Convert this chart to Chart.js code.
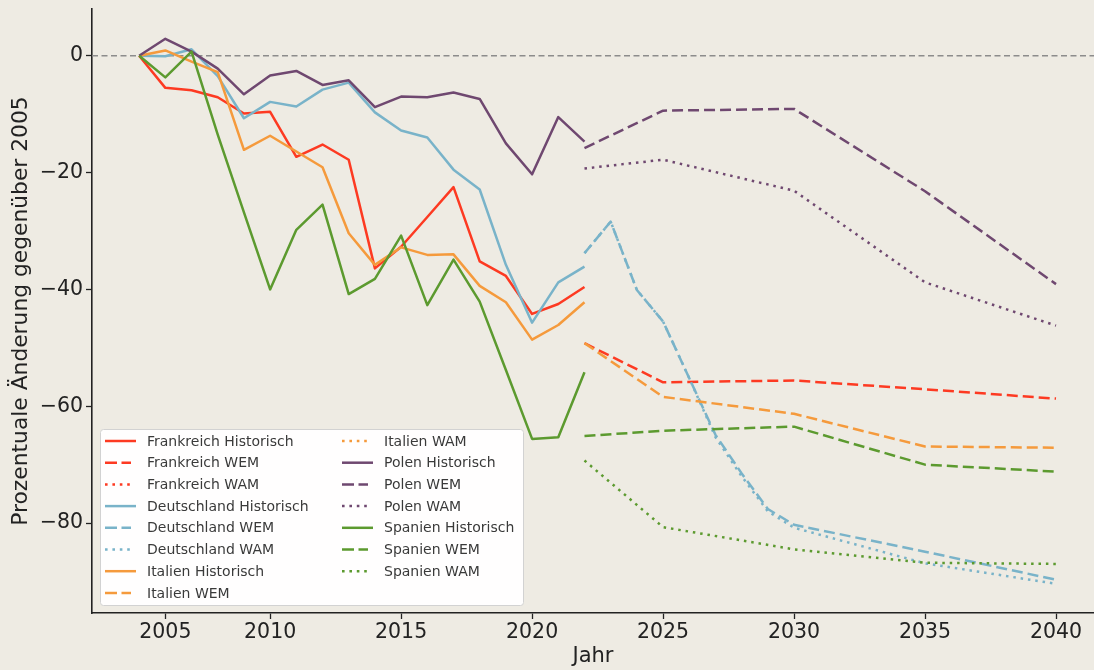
<!DOCTYPE html>
<html>
<head>
<meta charset="utf-8">
<script src="https://cdn.jsdelivr.net/npm/chart.js@4"></script>
<style>
  html, body { margin: 0; padding: 0; background: #eeebe3; overflow: hidden; }
  canvas { display: block; }
</style>
</head>
<body>
<canvas id="chart" width="1094" height="670"></canvas>
<script>
// years
const histYears = [2005, 2006, 2007, 2008, 2009, 2010, 2011, 2012, 2013, 2014, 2015, 2016, 2017, 2018, 2019, 2020, 2021, 2022];
const projYears = [2022, 2025, 2030, 2035, 2040];
const deProjYears = [2022, 2023, 2024, 2025, 2026, 2027, 2028, 2029, 2030, 2035, 2040];

// historical values (% vs 2005)
const frHist = [0, -5.5, -5.9, -7.1, -9.9, -9.6, -17.3, -15.2, -17.8, -36.4, -32.7, -27.6, -22.5, -35.2, -37.7, -44.2, -42.5, -39.6];
const deHist = [0, -0.1, 1.1, -3.5, -10.7, -7.9, -8.7, -5.8, -4.6, -9.7, -12.8, -14.0, -19.5, -22.9, -35.8, -45.7, -38.8, -36.1];
const itHist = [0, 0.9, -1.0, -2.8, -16.1, -13.7, -16.4, -19.1, -30.4, -35.8, -32.8, -34.1, -34.0, -39.4, -42.2, -48.6, -46.1, -42.2];
const plHist = [0, 2.9, 0.7, -2.2, -6.6, -3.4, -2.6, -5.0, -4.2, -8.8, -7.0, -7.1, -6.3, -7.4, -15.0, -20.3, -10.5, -14.7];
const esHist = [0, -3.7, 0.7, -13.5, -26.8, -40.0, -29.8, -25.5, -40.8, -38.2, -30.8, -42.7, -34.9, -42.1, -53.8, -65.6, -65.3, -54.2];

// projections
const frWEM = [-49.2, -55.9, -55.6, -57.1, -58.7];
const frWAM = [];
const deWEM = [-33.8, -28.4, -40.1, -45.5, -55.2, -64.9, -71.5, -77.6, -80.3, -84.9, -89.7];
const deWAM = [-33.8, -28.4, -40.1, -45.5, -55.2, -65.3, -72.0, -78.0, -80.8, -86.9, -90.4];
const itWEM = [-49.2, -58.4, -61.3, -66.9, -67.1];
const itWAM = [];
const plWEM = [-15.8, -9.4, -9.1, -23.2, -39.1];
const plWAM = [-19.3, -17.8, -23.1, -38.8, -46.2];
const esWEM = [-65.1, -64.2, -63.5, -70.0, -71.2];
const esWAM = [-69.3, -80.7, -84.5, -86.8, -87.0];

const countries = ['Frankreich', 'Deutschland', 'Italien', 'Polen', 'Spanien'];
const colors = ['#fd3a22', '#79b3c9', '#f59a3c', '#6f4870', '#5c9a2f'];

// axis ticks
const xTickValues = [2006, 2010, 2015, 2020, 2025, 2030, 2035, 2040];
const xTickLabels = ['2005', '2010', '2015', '2020', '2025', '2030', '2035', '2040'];
const yTickValues = [0, -20, -40, -60, -80];

const FONT = '"DejaVu Sans", sans-serif';
const dashes = { Historisch: [], WEM: [11, 5], WAM: [2.5, 4.9] };

function pts(xs, ys) {
  return ys.map((y, i) => ({ x: xs[i], y: y }));
}

const hist = [frHist, deHist, itHist, plHist, esHist];
const wem = [pts(projYears, frWEM), pts(deProjYears, deWEM), pts(projYears, itWEM), pts(projYears, plWEM), pts(projYears, esWEM)];
const wam = [pts(projYears, frWAM), pts(deProjYears, deWAM), pts(projYears, itWAM), pts(projYears, plWAM), pts(projYears, esWAM)];

const datasets = [];
countries.forEach((c, i) => {
  [['Historisch', pts(histYears, hist[i])], ['WEM', wem[i]], ['WAM', wam[i]]].forEach(([kind, data]) => {
    datasets.push({
      label: c + ' ' + kind,
      kind: kind,
      data: data,
      borderColor: colors[i],
      backgroundColor: colors[i],
      borderWidth: 2.5,
      borderDash: dashes[kind],
      borderCapStyle: 'butt',
      borderJoinStyle: 'round',
      pointRadius: 0,
      fill: false,
      order: -datasets.length
    });
  });
});

// dashed gray line at 0
const zeroLine = {
  id: 'zeroLine',
  beforeDatasetsDraw(chart) {
    const { ctx, chartArea } = chart;
    const y = chart.scales.y.getPixelForValue(0);
    ctx.save();
    ctx.strokeStyle = '#8c8c8c';
    ctx.lineWidth = 1.6;
    ctx.setLineDash([6, 3.5]);
    ctx.beginPath();
    ctx.moveTo(chartArea.left, y);
    ctx.lineTo(chartArea.right, y);
    ctx.stroke();
    ctx.restore();
  }
};

// two-column legend inside the plot
const legendBox = {
  id: 'legendBox',
  afterDatasetsDraw(chart) {
    const ctx = chart.ctx;
    const sets = chart.data.datasets;
    ctx.save();
    ctx.setLineDash([]);
    ctx.fillStyle = 'rgba(255,255,255,0.95)';
    ctx.strokeStyle = '#d2d2d2';
    ctx.lineWidth = 1;
    ctx.beginPath();
    ctx.roundRect(100.5, 429.5, 423, 176, 3);
    ctx.fill();
    ctx.stroke();
    ctx.font = '14px ' + FONT;
    ctx.textBaseline = 'middle';
    sets.forEach((ds, i) => {
      const col = i < 8 ? 0 : 1;
      const row = col ? i - 8 : i;
      const lx = col ? 342 : 105;
      const y = 441 + row * 21.7;
      ctx.strokeStyle = ds.borderColor;
      ctx.lineWidth = 2.5;
      ctx.lineCap = 'butt';
      ctx.setLineDash(ds.kind === 'Historisch' ? [] : ds.kind === 'WEM' ? [12, 4.5] : [2.6, 4.8]);
      ctx.beginPath();
      ctx.moveTo(lx, y);
      ctx.lineTo(ds.kind === 'Historisch' ? lx + 31 : lx + 26, y);
      ctx.stroke();
      ctx.setLineDash([]);
      ctx.fillStyle = '#3a3a3a';
      ctx.fillText(ds.label, lx + 42, y + 1);
    });
    ctx.restore();
  }
};

new Chart(document.getElementById('chart'), {
  type: 'line',
  data: { datasets: datasets },
  options: {
    responsive: false,
    animation: false,
    devicePixelRatio: 1,
    layout: { padding: { top: 9, left: 0, right: 0, bottom: 0 } },
    plugins: { legend: { display: false }, tooltip: { enabled: false } },
    elements: { line: { tension: 0 }, point: { radius: 0 } },
    scales: {
      x: {
        type: 'linear',
        min: 2003.2,
        max: 2041.45,
        afterBuildTicks: s => { s.ticks = xTickValues.map(v => ({ value: v })); },
        afterFit: s => { s.height = 57; s.paddingLeft = 0; s.paddingRight = 0; },
        ticks: {
          callback: v => xTickLabels[xTickValues.indexOf(v)],
          font: { family: FONT, size: 20.5 },
          color: '#222',
          padding: 1,
          maxRotation: 0,
          autoSkip: false
        },
        grid: { drawOnChartArea: false, drawTicks: true, tickLength: 6, color: '#222', tickWidth: 1.3 },
        border: { display: true, color: '#222', width: 1.6 },
        title: { display: true, text: 'Jahr', font: { family: FONT, size: 21 }, color: '#222', padding: { top: 0, bottom: 1 } }
      },
      y: {
        min: -95.4,
        max: 8,
        afterBuildTicks: s => { s.ticks = yTickValues.map(v => ({ value: v })); },
        afterFit: s => { s.width = 92; s.paddingTop = 0; s.paddingBottom = 0; },
        ticks: {
          callback: v => v < 0 ? '\u2212' + Math.abs(v) : String(v),
          font: { family: FONT, size: 20.5 },
          color: '#222',
          padding: 3
        },
        grid: { drawOnChartArea: false, drawTicks: true, tickLength: 6, color: '#222', tickWidth: 1.3 },
        border: { display: true, color: '#222', width: 1.6 },
        title: { display: true, text: 'Prozentuale Änderung gegenüber 2005', font: { family: FONT, size: 21.8 }, color: '#222', padding: { top: 8, bottom: 0 } }
      }
    }
  },
  plugins: [zeroLine, legendBox]
});
</script>
</body>
</html>
